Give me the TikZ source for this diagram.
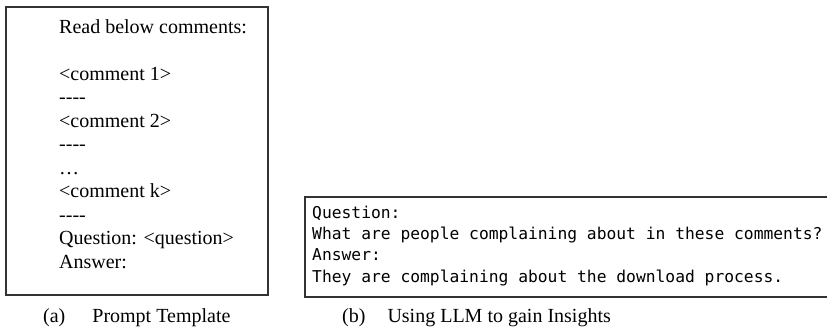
\documentclass[tikz,border=0pt]{standalone}
\usepackage{fontspec}
\setmainfont{Liberation Serif}
\setmonofont{DejaVu Sans Mono}
\usepackage{tikz}
\usetikzlibrary{positioning}
\tikzstyle{panel} = [rectangle, draw=black!80, line width=2pt, inner sep=0pt]
\tikzstyle{prompt_text} = [anchor=base west, align=left, inner sep=0pt, font=\fontsize{20}{23.5}\selectfont]
\tikzstyle{code_text} = [anchor=base west, align=left, inner sep=0pt, font=\ttfamily\fontsize{16.3}{21.3}\selectfont]
\tikzstyle{caption} = [anchor=base west, inner sep=0pt, font=\fontsize{20}{24}\selectfont]

\begin{document}
\begin{tikzpicture}[x=1pt, y=-1pt]
	\useasboundingbox (0,0) rectangle (827,327);
	\clip (0,0) rectangle (827,327);
	% left panel (text placed by the baseline of its last line)
	\node (prompt_box) at (5,6) [panel, anchor=north west, minimum width=262pt, minimum height=288pt] {};
	\node (prompt) at (59,268) [prompt_text] {Read below comments:\\[23.5pt]
		<comment 1>\\
		-\kern0pt-\kern0pt-\kern0pt-\\
		<comment 2>\\
		-\kern0pt-\kern0pt-\kern0pt-\\
		…\\
		<comment k>\\
		-\kern0pt-\kern0pt-\kern0pt-\\
		Question: <question>\\
		Answer:};

	% right panel
	\node (answer_box) at (304,196) [panel, anchor=north west, minimum width=560pt, minimum height=100pt] {};
	\node (answer) at (312,282) [code_text] {Question:\\
		What are people complaining about in these comments?\\
		Answer:\\
		They are complaining about the download process.};

	% captions
	\node (cap_a) at (43,322) [caption] {(a)\hspace{27pt}Prompt Template};
	\node (cap_b) at (342,322) [caption] {(b)\hspace{22pt}Using LLM to gain Insights};
\end{tikzpicture}
\end{document}
